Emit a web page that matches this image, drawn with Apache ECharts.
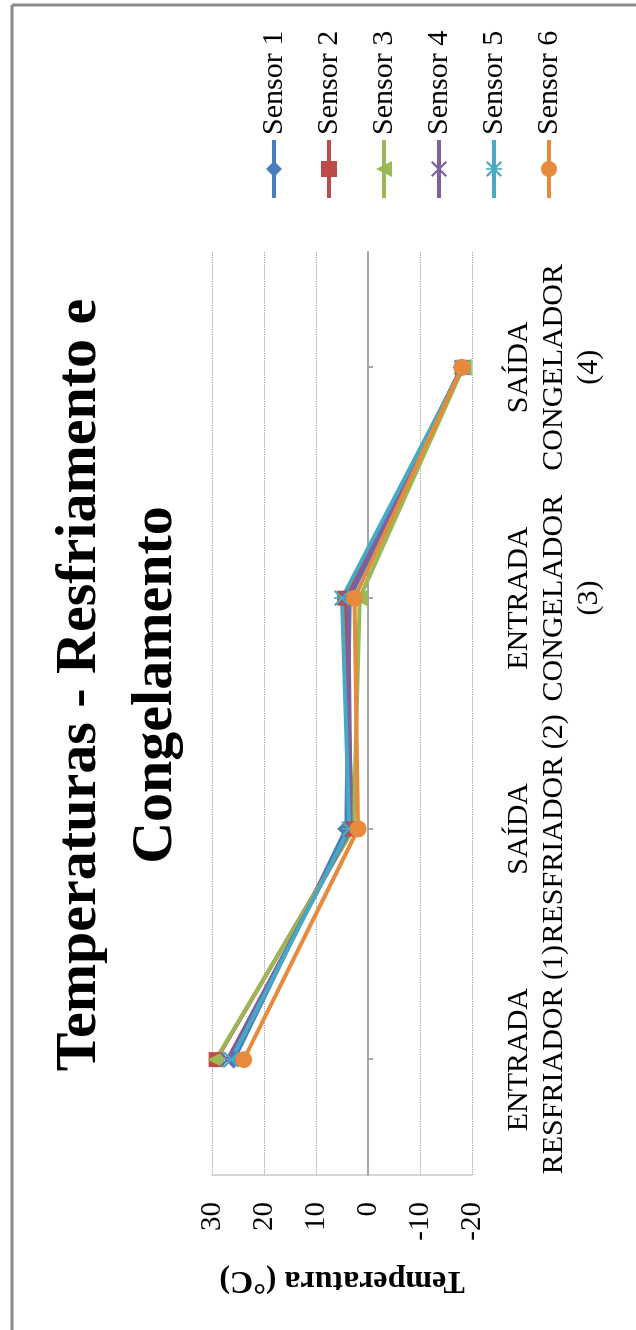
<!DOCTYPE html>
<html>
<head>
<meta charset="utf-8">
<script src="https://cdn.jsdelivr.net/npm/echarts@6/dist/echarts.min.js"></script>
<style>
  html, body { margin: 0; padding: 0; background: #fff; overflow: hidden; }
  body { width: 636px; height: 1330px; position: relative; }
  /* The chart is laid out landscape and turned a quarter turn counter-clockwise */
  #chart {
    position: absolute; left: 0; top: 0;
    width: 1330px; height: 636px;
    transform-origin: 0 0;
    transform: translate(0px, 1330px) rotate(-90deg);
  }
</style>
</head>
<body>
<div id="chart"></div>
<script>
const categories = [
  'ENTRADA\nRESFRIADOR (1)',
  'SAÍDA\nRESFRIADOR (2)',
  'ENTRADA\nCONGELADOR\n(3)',
  'SAÍDA\nCONGELADOR\n(4)'
];
const sensorNames = ['Sensor 1', 'Sensor 2', 'Sensor 3', 'Sensor 4', 'Sensor 5', 'Sensor 6'];
const sensor1 = [25.8, 4.2, 3.5, -18.0];
const sensor2 = [29.2, 3.0, 4.5, -18.1];
const sensor3 = [29.3, 2.8, 1.6, -18.3];
const sensor4 = [27.0, 3.3, 3.8, -18.0];
const sensor5 = [26.3, 3.6, 5.0, -18.2];
const sensor6 = [23.9, 1.9, 2.6, -18.1];
const tempTicks = { min: -20, max: 30, step: 10 };

const SERIF = "'Liberation Serif', 'Times New Roman', serif";
const colors = ['#4A7EBB', '#BE4B48', '#98B954', '#7D60A0', '#46AAC5', '#E68A3C'];

// Marker shapes: diamond, square, triangle, cross, asterisk, circle
const crossPath = 'path://M0,1L1,0L10,9L9,10ZM9,0L10,1L1,10L0,9Z';
const starPath = 'path://M0,1L1,0L10,9L9,10ZM9,0L10,1L1,10L0,9ZM4.5,0L5.5,0L5.5,10L4.5,10Z';
const symbols = ['diamond', 'rect', 'triangle', crossPath, starPath, 'circle'];
const symbolSizes = [18, 15, 17, 15, 16, 17];
const values = [sensor1, sensor2, sensor3, sensor4, sensor5, sensor6];

const series = values.map((data, i) => ({
  name: sensorNames[i],
  type: 'line',
  xAxisIndex: 0,
  data: data,
  symbol: symbols[i],
  symbolSize: symbolSizes[i],
  showAllSymbol: true,
  lineStyle: { width: 4, color: colors[i] },
  itemStyle: { color: colors[i] },
  emphasis: { disabled: true }
}));

const chart = echarts.init(document.getElementById('chart'), null, { width: 1330, height: 636, renderer: 'canvas' });

chart.setOption({
  animation: false,
  color: colors,
  grid: { left: 155, right: 252, top: 212, bottom: 164, containLabel: false },
  xAxis: [
    {
      type: 'category',
      data: categories,
      position: 'bottom',
      boundaryGap: true,
      axisLine: { show: false, onZero: false },
      axisTick: { show: false },
      axisLabel: {
        interval: 0,
        margin: 30,
        color: '#000',
        fontFamily: SERIF,
        fontSize: 30,
        lineHeight: 35,
        align: 'center'
      },
      splitLine: { show: false }
    },
    {
      type: 'category',
      data: categories,
      position: 'bottom',
      boundaryGap: true,
      axisLine: { show: true, onZero: true, onZeroAxisIndex: 0, lineStyle: { color: '#A6A6A6', width: 2 } },
      axisTick: { show: true, alignWithLabel: true, length: 5, lineStyle: { color: '#A6A6A6', width: 2 } },
      axisLabel: { show: false },
      splitLine: { show: false }
    }
  ],
  yAxis: {
    type: 'value',
    min: tempTicks.min,
    max: tempTicks.max,
    interval: tempTicks.step,
    name: 'Temperatura (°C)',
    nameLocation: 'middle',
    nameGap: 89,
    nameTextStyle: { color: '#000', fontFamily: SERIF, fontSize: 32, fontWeight: 'bold' },
    axisLine: { show: true, lineStyle: { color: '#C8C8C8', width: 1.5 } },
    axisTick: { show: false },
    axisLabel: { margin: 27, color: '#000', fontFamily: SERIF, fontSize: 29 },
    splitLine: { show: true, lineStyle: { type: 'dotted', color: '#999', width: 1.2 } }
  },
  legend: {
    orient: 'vertical',
    left: 1125,
    top: 254,
    itemWidth: 58,
    itemHeight: 20,
    itemGap: 25,
    data: sensorNames,
    lineStyle: { width: 4 },
    textStyle: { color: '#000', fontFamily: SERIF, fontSize: 30 }
  },
  graphic: [
    {
      type: 'text',
      x: 645,
      y: 42,
      style: {
        text: 'Temperaturas - Resfriamento e\nCongelamento',
        font: 'bold 58px ' + SERIF,
        fill: '#000',
        align: 'center',
        verticalAlign: 'top',
        lineHeight: 76
      }
    },
    {
      type: 'line',
      shape: { x1: 0, y1: 12, x2: 1325, y2: 12 },
      style: { stroke: '#8A8A8A', lineWidth: 3 }
    },
    {
      type: 'line',
      shape: { x1: 1325, y1: 12, x2: 1325, y2: 636 },
      style: { stroke: '#8A8A8A', lineWidth: 3 }
    }
  ],
  series: series
});
</script>
</body>
</html>
